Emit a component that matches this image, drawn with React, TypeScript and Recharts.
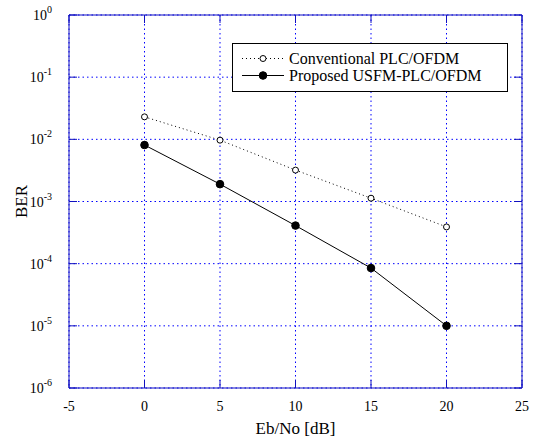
import React from "react";
import { LineChart, Line, XAxis, YAxis, CartesianGrid } from "recharts";

const snr = [0, 5, 10, 15, 20];
const conventional = [0.023, 0.0097, 0.0032, 0.00113, 0.00039];
const proposed = [0.0081, 0.0019, 0.00041, 0.000085, 0.00001];
const xTicks = [-5, 0, 5, 10, 15, 20, 25];
const yTicks = [1e-6, 1e-5, 1e-4, 1e-3, 1e-2, 1e-1, 1];

const data = snr.map((x, i) => ({ x, conv: conventional[i], prop: proposed[i] }));

const FONT = "'Liberation Serif', 'Times New Roman', serif";
const BLUE = "#0000ff";
const AXIS_BLUE = "#1010c0";

const YTick = (props: any) => {
  const { x, y, payload } = props;
  const exp = Math.round(Math.log10(payload.value));
  return (
    <text x={x - 23} y={y + 5} textAnchor="end" fontFamily={FONT} fontSize={14} fill="#000">
      10<tspan dy={-7} fontSize={10}>{exp}</tspan>
    </text>
  );
};

const XTick = (props: any) => {
  const { x, y, payload } = props;
  return (
    <text x={x} y={y + 29} textAnchor="middle" fontFamily={FONT} fontSize={14} fill="#000">
      {payload.value}
    </text>
  );
};

const NoTick = () => <g />;

const legendText: React.CSSProperties = {
  display: "inline-block",
  height: 17,
  lineHeight: "17px",
  overflow: "visible",
};

const LegendBox = () => (
  <div
    style={{
      position: "absolute",
      left: 232,
      top: 43,
      width: 276,
      height: 49,
      border: "1px solid #000",
      background: "#fff",
      fontFamily: FONT,
      fontSize: 16,
      lineHeight: "17px",
      paddingTop: 6,
      boxSizing: "border-box",
    }}
  >
    <div style={{ display: "flex", alignItems: "center", height: 17 }}>
      <svg width={56} height={17}>
        <line x1={9} y1={8.5} x2={51} y2={8.5} stroke="#000" strokeDasharray="1 3" />
        <circle cx={30} cy={8.5} r={3} fill="#fff" stroke="#000" />
      </svg>
      <span style={legendText}>Conventional PLC/OFDM</span>
    </div>
    <div style={{ display: "flex", alignItems: "center", height: 17 }}>
      <svg width={56} height={17}>
        <line x1={9} y1={8.5} x2={51} y2={8.5} stroke="#000" />
        <circle cx={30} cy={8.5} r={3.8} fill="#000" stroke="#000" />
      </svg>
      <span style={legendText}>Proposed USFM-PLC/OFDM</span>
    </div>
  </div>
);

export default function App() {
  return (
    <div style={{ position: "absolute", left: 0, top: 0, width: 536, height: 443, background: "#fff" }}>
      <LineChart width={536} height={443} data={data} margin={{ top: 14, right: 13, left: 0, bottom: 0 }}>
        <CartesianGrid stroke={BLUE} strokeDasharray="1.5 3" />
        <XAxis
          dataKey="x"
          type="number"
          domain={[-5, 25]}
          ticks={xTicks}
          height={55}
          stroke={AXIS_BLUE}
          tickSize={-8}
          tick={<XTick />}
          label={(p: any) => (
            <text
              x={p.viewBox.x + p.viewBox.width / 2}
              y={p.viewBox.y + 46}
              textAnchor="middle"
              fontFamily={FONT}
              fontSize={17}
              fill="#000"
            >
              Eb/No [dB]
            </text>
          )}
        />
        <XAxis
          xAxisId="top"
          orientation="top"
          dataKey="x"
          type="number"
          domain={[-5, 25]}
          ticks={xTicks}
          height={1}
          stroke={AXIS_BLUE}
          tickSize={-8}
          tick={<NoTick />}
        />
        <YAxis
          type="number"
          scale="log"
          domain={[1e-6, 1]}
          ticks={yTicks}
          width={69}
          stroke={AXIS_BLUE}
          tickSize={-8}
          allowDataOverflow
          tick={<YTick />}
          label={(p: any) => {
            const cx = 27;
            const cy = p.viewBox.y + p.viewBox.height / 2;
            return (
              <text
                x={cx}
                y={cy}
                transform={`rotate(-90 ${cx} ${cy})`}
                textAnchor="middle"
                fontFamily={FONT}
                fontSize={17}
                fill="#000"
              >
                BER
              </text>
            );
          }}
        />
        <YAxis
          yAxisId="right"
          orientation="right"
          type="number"
          scale="log"
          domain={[1e-6, 1]}
          ticks={yTicks}
          width={1}
          stroke={AXIS_BLUE}
          tickSize={-8}
          allowDataOverflow
          tick={<NoTick />}
        />
        <Line
          dataKey="conv"
          stroke="#000"
          strokeWidth={1}
          strokeDasharray="1 3"
          dot={{ r: 3, fill: "#fff", stroke: "#000", strokeWidth: 1, strokeDasharray: "" }}
          isAnimationActive={false}
        />
        <Line
          dataKey="prop"
          stroke="#000"
          strokeWidth={1}
          dot={{ r: 3.8, fill: "#000", stroke: "#000", strokeWidth: 1 }}
          isAnimationActive={false}
        />
      </LineChart>
      <LegendBox />
    </div>
  );
}
